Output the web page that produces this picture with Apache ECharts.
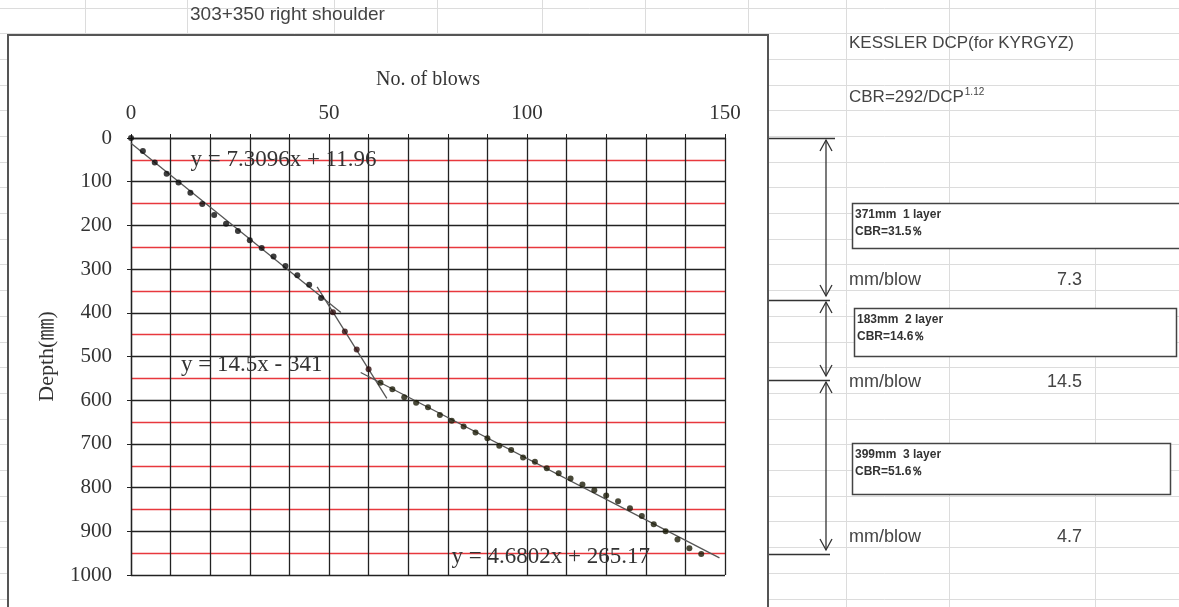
<!DOCTYPE html>
<html><head><meta charset="utf-8">
<script src="https://cdn.jsdelivr.net/npm/echarts@6/dist/echarts.min.js"></script>
<style>html,body{margin:0;padding:0;background:#fff}#c{width:1179px;height:607px}</style>
</head><body><div id="c"></div>
<script>
// ---- data ----
const blows = [0,3,6,9,12,15,18,21,24,27,30,33,36,39,42,45,48,51,54,57,60,63,66,69,72,75,78,81,84,87,90,93,96,99,102,105,108,111,114,117,120,123,126,129,132,135,138,141,144];
const depth = [0,30,56,82,102,125,151,176,196,213,234,252,271,293,314,336,366,399,443,484,529,560,575,593,606,616,634,647,660,674,687,704,714,731,741,756,767,779,793,806,818,831,847,865,884,900,919,939,952];
const layerLastBlow = [48, 60, 144];
const layerColors = ['#0d0d0d', '#2e0d0d', '#1c1c08'];
const xTickLabels = [0, 50, 100, 150];
const trendSlopes = [7.3096, 14.5, 4.6802];
const trendIntercepts = [11.96, -341, 265.17];
const trendFrom = [0, 47, 58];
const trendTo = [53, 64.6, 148.6];
const trendLabels = ['y = 7.3096x + 11.96', 'y = 14.5x - 341', 'y = 4.6802x + 265.17'];
const trendLabelAt = [[38.5, 50], [30.5, 520], [106, 958]];
const layerBounds = [0, 371, 554, 953];
const layerThickness = ['371mm  1 layer', '183mm  2 layer', '399mm  3 layer'];
const layerCBR = ['CBR=31.5％', 'CBR=14.6％', 'CBR=51.6％'];
const mmPerBlow = ['7.3', '14.5', '4.7'];
const sheetTitle = '303+350 right shoulder';
const sideTitle = 'KESSLER DCP(for KYRGYZ)';

const SERIF = '"Liberation Serif", "Noto Sans CJK JP", serif';
const SANS = '"Liberation Sans", "Noto Sans", sans-serif';

const chart = echarts.init(document.getElementById('c'), null, {renderer: 'canvas'});

const scatterSeries = [];
let start = 0;
layerLastBlow.forEach((last, i) => {
  const pts = [];
  for (let k = 0; k < blows.length; k++) {
    if (blows[k] >= start && blows[k] <= last) pts.push([blows[k], depth[k]]);
  }
  start = last + 0.5;
  scatterSeries.push({
    type: 'scatter', data: pts, symbol: 'circle', symbolSize: 6,
    itemStyle: {color: layerColors[i]}, z: 5, silent: true
  });
});
const trendSeries = trendSlopes.map((m, i) => ({
  type: 'line', showSymbol: false, silent: true, z: 4,
  data: [[trendFrom[i], m * trendFrom[i] + trendIntercepts[i]], [trendTo[i], m * trendTo[i] + trendIntercepts[i]]],
  lineStyle: {color: '#555', width: 1.3}
}));

chart.setOption({
  animation: false,
  backgroundColor: 'transparent',
  grid: {left: 131, top: 138, width: 594, height: 437, containLabel: false},
  xAxis: {
    type: 'value', position: 'top', min: 0, max: 150, interval: 10,
    name: 'No. of blows', nameLocation: 'middle', nameGap: 48,
    nameTextStyle: {fontFamily: SERIF, fontSize: 20, color: '#333'},
    axisLine: {show: true, onZero: false, lineStyle: {color: '#222', width: 1.3}},
    axisTick: {show: true, length: 4, lineStyle: {color: '#222'}},
    axisLabel: {
      margin: 14, fontFamily: SERIF, fontSize: 21, color: '#333',
      formatter: v => (xTickLabels.indexOf(v) >= 0 ? String(v) : '')
    },
    splitLine: {show: true, lineStyle: {color: '#222', width: 1.3}}
  },
  yAxis: {
    type: 'value', inverse: true, min: 0, max: 1000, interval: 100,
    name: 'Depth(㎜)', nameLocation: 'middle', nameGap: 73, nameRotate: 90,
    nameTextStyle: {fontFamily: SERIF, fontSize: 22, color: '#333'},
    axisLine: {show: true, onZero: false, lineStyle: {color: '#222', width: 1.3}},
    axisTick: {show: true, length: 4, lineStyle: {color: '#222'}},
    axisLabel: {margin: 19, fontFamily: SERIF, fontSize: 21, color: '#333', formatter: v => String(v)},
    splitLine: {show: true, lineStyle: {color: '#222', width: 1.3}},
    minorTick: {show: false, splitNumber: 2},
    minorSplitLine: {show: true, lineStyle: {color: '#e8383d', width: 1.3}}
  },
  series: [...trendSeries, ...scatterSeries]
});

// ---- decorations: spreadsheet, frame, annotations ----
const g = [];
const sheetCols = [85, 187, 334, 437, 542, 645, 748, 846, 949, 1095];
for (let y = 7.5; y < 607; y += 25.7) {
  g.push({type: 'line', z: -20, silent: true, shape: {x1: 0, y1: Math.round(y) + 0.5, x2: 1179, y2: Math.round(y) + 0.5}, style: {stroke: '#dcdcdc', lineWidth: 1}});
}
sheetCols.forEach(x => g.push({type: 'line', z: -20, silent: true, shape: {x1: x + 0.5, y1: 0, x2: x + 0.5, y2: 607}, style: {stroke: '#dcdcdc', lineWidth: 1}}));
g.push({type: 'rect', z: -10, silent: true, shape: {x: 8, y: 35, width: 760, height: 640}, style: {fill: '#fff', stroke: '#555', lineWidth: 2}});
g.push({type: 'text', z: -5, silent: true, x: 190, y: 15, style: {text: sheetTitle, font: '19px ' + SANS, fill: '#444', textVerticalAlign: 'middle'}});

trendLabels.forEach((t, i) => {
  const p = chart.convertToPixel({gridIndex: 0}, trendLabelAt[i]);
  g.push({type: 'text', z: 10, silent: true, x: p[0], y: p[1], style: {text: t, font: '23px ' + SERIF, fill: '#333', textAlign: 'center', textVerticalAlign: 'middle'}});
});

g.push({type: 'text', silent: true, x: 849, y: 43, style: {text: sideTitle, font: '17px ' + SANS, fill: '#444', textVerticalAlign: 'middle'}});
g.push({type: 'text', silent: true, x: 849, y: 97, style: {
  text: '{a|CBR=292/DCP}{s|1.12}',
  rich: {a: {font: '17px ' + SANS, fill: '#444', color: '#444'}, s: {font: '10px ' + SANS, color: '#444', fill: '#444', verticalAlign: 'top', padding: [0, 0, 10, 1]}},
  textVerticalAlign: 'middle'
}});

const arrowX = 826;
const ys = layerBounds.map(d => chart.convertToPixel({gridIndex: 0}, [0, d])[1]);
ys.forEach((y, i) => {
  g.push({type: 'line', silent: true, shape: {x1: 769, y1: Math.round(y) + 0.5, x2: i === 0 ? 835 : 830, y2: Math.round(y) + 0.5}, style: {stroke: '#333', lineWidth: 1.3}});
});
for (let i = 0; i < 3; i++) {
  const top = Math.round(ys[i]) + 2, bot = Math.round(ys[i + 1]) - 4;
  g.push({type: 'line', silent: true, shape: {x1: arrowX, y1: top, x2: arrowX, y2: bot}, style: {stroke: '#333', lineWidth: 1.3}});
  g.push({type: 'polyline', silent: true, shape: {points: [[arrowX - 6, top + 11], [arrowX, top], [arrowX + 6, top + 11]]}, style: {stroke: '#333', lineWidth: 1.3, fill: null}});
  g.push({type: 'polyline', silent: true, shape: {points: [[arrowX - 6, bot - 11], [arrowX, bot], [arrowX + 6, bot - 11]]}, style: {stroke: '#333', lineWidth: 1.3, fill: null}});
}
const boxes = [[852, 203, 340, 45], [854, 308, 322, 48], [852, 443, 318, 51]];
const mmY = [280, 382, 537];
boxes.forEach((b, i) => {
  g.push({type: 'rect', silent: true, shape: {x: b[0] + 0.5, y: b[1] + 0.5, width: b[2], height: b[3]}, style: {fill: '#fff', stroke: '#444', lineWidth: 1.5}});
  g.push({type: 'text', silent: true, x: b[0] + 3, y: b[1] + 12, style: {text: layerThickness[i], font: 'bold 12px ' + SANS, fill: '#333', textVerticalAlign: 'middle'}});
  g.push({type: 'text', silent: true, x: b[0] + 3, y: b[1] + 29, style: {text: layerCBR[i], font: 'bold 12px ' + SANS, fill: '#333', textVerticalAlign: 'middle'}});
  g.push({type: 'text', silent: true, x: 849, y: mmY[i], style: {text: 'mm/blow', font: '18px ' + SANS, fill: '#444', textVerticalAlign: 'middle'}});
  g.push({type: 'text', silent: true, x: 1082, y: mmY[i], style: {text: mmPerBlow[i], font: '18px ' + SANS, fill: '#444', textAlign: 'right', textVerticalAlign: 'middle'}});
});

chart.setOption({graphic: {elements: g}});
</script>
</body></html>
